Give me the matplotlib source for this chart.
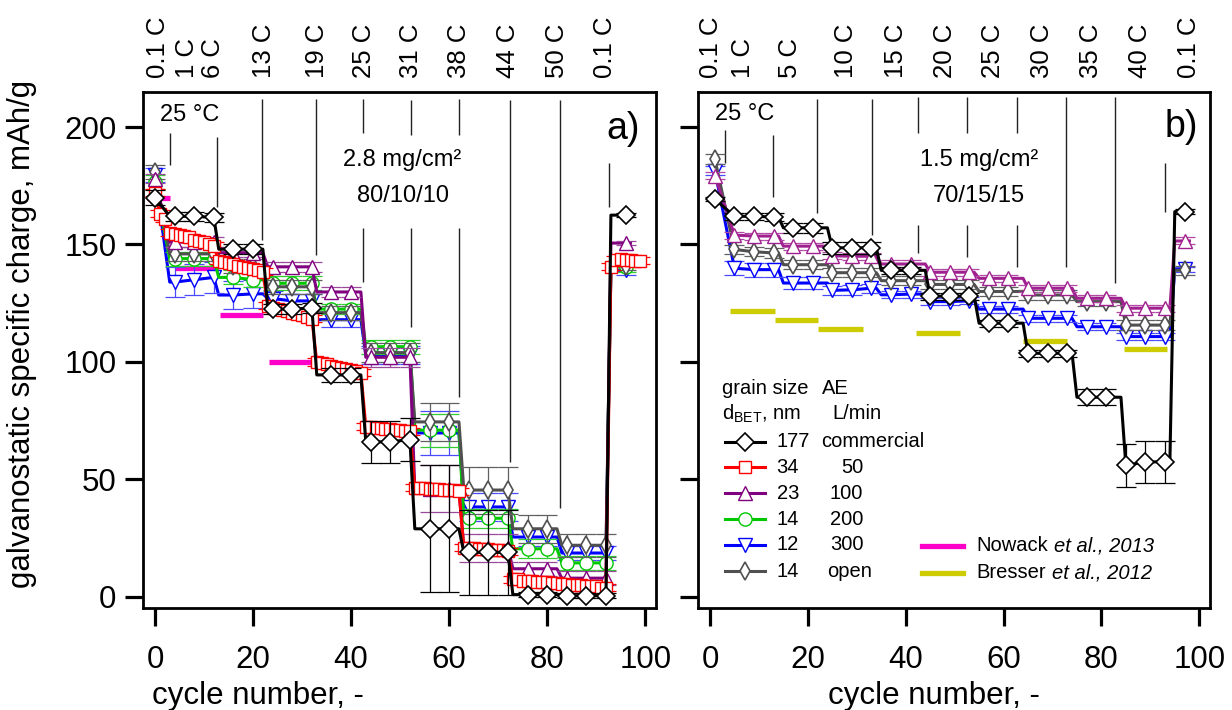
import numpy as np
import matplotlib.pyplot as plt
from matplotlib import transforms

plt.rcParams['font.family'] = ['Liberation Sans', 'DejaVu Sans']
plt.rcParams['mathtext.fontset'] = 'custom'
plt.rcParams['mathtext.rm'] = 'Liberation Sans'
plt.rcParams['mathtext.it'] = 'Liberation Sans:italic'

# ---------------- panel a) 2.8 mg/cm2, 80/10/10 ----------------
a_first = [0, 3, 13, 23, 33, 43, 53, 63, 73, 83, 93]   # first cycle of each C-rate step
a_last = [2, 12, 22, 32, 42, 52, 62, 72, 82, 92, 97]
a_rates = ['0.1 C', '1 C', '6 C', '13 C', '19 C', '25 C', '31 C', '38 C', '44 C', '50 C', '0.1 C']
a_rate_pos = [0.6, 6.5, 11.8, 22.3, 33.0, 42.7, 52.3, 62.1, 72.1, 82.1, 91.8]
a_cyc = [0, 4, 8, 12, 16, 20, 24, 28, 32, 36, 40, 44, 48, 52, 56, 60, 64, 68, 72, 76, 80, 84, 88, 92, 96]

a_177 = [170, 162, 162, 161.5, 148, 148, 122.5, 122.5, 123, 94.5, 94.5, 66, 66, 67,
         29, 29, 19, 19, 19, 1, 1, 0.5, 0.5, 0.5, 162.5]
a_177_err = [3, 2, 2, 2, 2, 2, 2, 2, 2, 3, 3, 9, 9, 9, 27, 27, 18, 18, 18, 1, 1, 1, 1, 1, 1]
a_23 = [178, 151, 151, 151, 146.5, 146.5, 140.5, 140.5, 140.5, 129.8, 129.8, 102, 102, 102,
        46, 46, 21, 21, 21, 12, 12, 8, 8, 8, 150.6]
a_23_err = [2, 2, 2, 2, 2, 2, 2, 2, 2, 2, 2, 4, 4, 4, 10, 10, 6, 6, 6, 3, 3, 3, 3, 3, 1]
a_14 = [176.5, 144, 144, 144, 136, 135, 133.5, 133.5, 133.5, 122.5, 122.5, 106.5, 106.5, 106.5,
        71, 71, 33.5, 33.5, 33.5, 20.5, 20.5, 14.5, 14.5, 14.5, 140.5]
a_14_err = [3, 3, 3, 3, 3, 3, 3, 3, 3, 2, 2, 3, 3, 3, 7, 7, 4, 4, 4, 4, 4, 3, 3, 3, 2]
a_12 = [179.5, 134, 135, 136, 128.5, 129, 127, 126, 126, 118, 118, 103, 103, 103,
        69.8, 69.8, 38.3, 38.3, 38.3, 25.5, 25.5, 18.7, 18.7, 18.7, 139]
a_12_err = [3, 6.5, 6.5, 6.5, 6, 6, 3, 3, 3, 3, 3, 4, 4, 4, 9.5, 9.5, 6, 6, 6, 4, 4, 3, 3, 3, 2]
a_open = [181, 146, 146, 146, 141, 141, 132, 132, 132, 121, 121, 104, 104, 104,
          74.5, 74.5, 45.5, 45.5, 45.5, 29, 29, 22, 22, 22, 141]
a_open_err = [3, 3, 3, 3, 3, 3, 3, 3, 3, 3, 3, 4, 4, 4, 8, 8, 10, 10, 10, 6, 6, 5, 5, 5, 2]

# 34 nm / 50 L/min sample, measured every cycle
a_34_cyc = list(range(100))
a_34 = [172, 163, 161,
        155, 154.5, 154, 153.5, 153, 152, 151.5, 151, 150, 149.5,
        143, 142.5, 142, 141.5, 141, 140.5, 140, 139.5, 139, 138.5,
        124, 123, 122.5, 122, 121.5, 121, 120.5, 120, 119, 118.5,
        100, 99.5, 99, 98.5, 98, 97.5, 97, 96.5, 96, 95.5,
        72.5, 72.5, 72, 72, 71.5, 71.5, 71, 71, 70.5, 70.5,
        46.5, 46.5, 46.5, 46, 46, 46, 45.5, 45.5, 45.5, 45,
        21, 21, 21, 20.5, 20.5, 20.5, 20, 20, 20, 19.5,
        7.5, 7.5, 7, 7, 7, 6.5, 6.5, 6.5, 6, 6,
        5.5, 5.5, 5, 5, 5, 4.5, 4.5, 4.5, 4, 4,
        140.5, 143.5, 144, 143.5, 143.5, 143, 143]
a_34_err = [1.5] * len(a_34)

# Nowack et al., 2013
now_start = [-1.6, 4.0, 13.2, 23.3]
now_end = [3.0, 12.8, 22.0, 32.0]
now_val = [170, 140, 120, 100]

# guide lines at the rate changes: (cycle, [(ymin, ymax), ...])
a_guides = [(3.0, [(183.8, 197.4)]), (12.6, [(166, 195.7)]), (21.9, [(151.9, 211.9)]),
            (32.9, [(145.5, 211.9)]), (42.4, [(197.4, 211.9), (134, 157)]),
            (52.3, [(196.6, 211.5), (114.9, 157)]), (62.1, [(196.6, 211.9), (85.1, 157)]),
            (72.4, [(57.4, 211.5)]), (82.6, [(37.9, 211.5)]), (92.7, [(166, 184.7)])]

# ---------------- panel b) 1.5 mg/cm2, 70/15/15 ----------------
b_first = [1, 5, 15, 25, 35, 45, 55, 65, 75, 85, 95]
b_last = [4, 14, 24, 34, 44, 54, 64, 74, 84, 94, 98]
b_rates = ['0.1 C', '1 C', '5 C', '10 C', '15 C', '20 C', '25 C', '30 C', '35 C', '40 C', '0.1 C']
b_rate_pos = [0.2, 6.7, 16.3, 27.7, 38.0, 48.0, 57.8, 67.8, 77.8, 87.9, 98.0]
b_cyc = [1, 5, 9, 13, 17, 21, 25, 29, 33, 37, 41, 45, 49, 53, 57, 61, 65, 69, 73, 77, 81, 85, 89, 93, 97]

b_177 = [169.3, 162, 162, 161.7, 157.1, 157.1, 148.6, 148.6, 148.6, 139, 139, 128, 128, 128,
         116.5, 116.5, 103.7, 103.7, 103.7, 85, 85, 56, 57.5, 57.5, 164]
b_177_err = [1, 1.5, 1.5, 1.5, 2, 2, 2.5, 2.5, 2.5, 1.5, 1.5, 1.5, 1.5, 1.5,
             1.5, 1.5, 1.5, 1.5, 1.5, 3.5, 3.5, 9, 9, 9, 1]
b_23 = [179.3, 154, 153.6, 153.6, 149.3, 149.3, 145.2, 145, 145, 141.7, 141.7, 138.2, 138.2, 138.2,
        135.6, 135.6, 131.4, 131.4, 131.4, 127.1, 127.1, 122.9, 122.9, 122.9, 151.5]
b_23_err = [1.5] * 25
b_open = [186.4, 147.9, 146.9, 146.4, 141.4, 141.4, 138, 138, 138, 134.6, 134.6, 133, 133, 133,
          130, 130, 128.5, 128.5, 128.5, 125.7, 125.7, 115.7, 115.7, 115.7, 139]
b_open_err = [2] * 25
b_12 = [181.4, 139.9, 139.3, 139.3, 133.6, 133.6, 130.5, 130.7, 131.4, 128.6, 128.9, 125.7, 125.7, 126,
        122.5, 122.5, 118.6, 118.6, 118.6, 115, 115, 110.8, 110.8, 110.8, 139.5]
b_12_err = [2, 3, 3, 3, 2.5, 2.5, 2, 2, 2, 1.5, 1.5, 1.5, 1.5, 1.5, 1.5, 1.5, 1.5, 1.5, 1.5,
            1.5, 1.5, 1.5, 1.5, 1.5, 1]

# Bresser et al., 2012
bre_start = [4.1, 13.3, 22.0, 42.2, 63.9, 84.7]
bre_end = [13.3, 22.0, 31.2, 51.0, 72.9, 93.5]
bre_val = [121.5, 118, 114, 112.2, 108.9, 105.4]

b_guides = [(3.0, [(184.7, 198.7)]), (12.8, [(170.2, 196.6)]), (21.9, [(163.4, 212)]),
            (33.1, [(154, 212)]), (42.6, [(197.4, 212.8), (146.4, 158.3)]),
            (52.5, [(197.4, 212.8), (144.7, 158.3)]), (62.7, [(197.4, 212.8), (140.4, 158.3)]),
            (72.8, [(140.4, 212.8)]), (82.8, [(133.6, 212.8)]), (93.1, [(163.8, 184.7)])]

# ---------------- styles ----------------
st_177 = dict(color='black', ecolor='black', marker='D', ms=9.2, mew=1.2, z=4.0)
st_34 = dict(color='#ff0000', ecolor='#ff0000', marker='s', ms=8.8, mew=1.0, z=3.8)
st_23a = dict(color='#800080', ecolor='#9a4a9a', marker='^', ms=10.5, mew=1.0, z=3.6)
st_23b = dict(color='#a0208f', ecolor='#b04aa4', marker='^', ms=10.5, mew=1.0, z=3.6)
st_14 = dict(color='#00c800', ecolor='#33cc33', marker='o', ms=9.5, mew=1.0, z=3.2)
st_12 = dict(color='#0000ff', ecolor='#4a4aff', marker='v', ms=10.5, mew=1.0, z=3.0)
st_open = dict(color='#505050', ecolor='#606060', marker='d', ms=8.7, mew=1.2, z=3.4)
REF_NOW = '#ff00c8'
REF_BRE = '#cccc00'
FS_TICK = 22.5
FS_NOTE = 17


def build_path(cyc, val, first, last):
    xs, ys = [], []
    for k, (f, l) in enumerate(zip(first, last)):
        pts = [(c, v) for c, v in zip(cyc, val) if f <= c <= l]
        if not pts:
            continue
        if k > 0 and pts[0][0] > f:
            xs.append(f); ys.append(pts[0][1])
        for c, v in pts:
            xs.append(c); ys.append(v)
        if k > 0 and pts[-1][0] < l:
            xs.append(l); ys.append(pts[-1][1])
    return xs, ys


def draw_series(ax, cyc, val, err, first, last, st):
    xs, ys = build_path(cyc, val, first, last)
    ax.plot(xs, ys, color=st['color'], lw=2.2, zorder=st['z'])
    ax.errorbar(cyc, val, yerr=err, fmt='none', ecolor=st['ecolor'], elinewidth=0.9,
                capsize=7, capthick=0.9, zorder=st['z'])
    ax.plot(cyc, val, ls='none', marker=st['marker'], ms=st['ms'], mfc='white',
            mec=st['color'], mew=st['mew'], zorder=st['z'] + 0.05)


def style_axes(ax, rates, rate_pos, guides, show_ylabels):
    ax.set_xlim(-2.45, 102.2)
    ax.set_ylim(-4.7, 214.9)
    ax.set_xticks([0, 20, 40, 60, 80, 100])
    ax.set_yticks([0, 50, 100, 150, 200])
    ax.tick_params(axis='both', direction='out', length=13, width=2.3, labelsize=FS_TICK)
    ax.tick_params(axis='x', pad=14)
    ax.tick_params(axis='y', pad=6, labelleft=show_ylabels)
    for sp in ax.spines.values():
        sp.set_linewidth(2.0)
    trans = transforms.blended_transform_factory(ax.transData, ax.transAxes)
    for lab, x in zip(rates, rate_pos):
        ax.text(x, 1.028, lab, transform=trans, rotation=90, ha='center', va='bottom', fontsize=18.5)
    for x, spans in guides:
        for y0, y1 in spans:
            ax.vlines(x, y0, y1, color='#222222', lw=1.0, zorder=1)


fig = plt.figure(figsize=(12.32, 7.10), dpi=100)
axa = fig.add_axes([143 / 1232, 102 / 710, 513 / 1232, 516 / 710])
axb = fig.add_axes([698 / 1232, 102 / 710, 512 / 1232, 516 / 710])

# panel a
style_axes(axa, a_rates, a_rate_pos, a_guides, True)
axa.hlines(now_val, now_start, now_end, color=REF_NOW, lw=3.8, zorder=2)
draw_series(axa, a_cyc, a_12, a_12_err, a_first, a_last, st_12)
draw_series(axa, a_cyc, a_14, a_14_err, a_first, a_last, st_14)
draw_series(axa, a_cyc, a_open, a_open_err, a_first, a_last, st_open)
draw_series(axa, a_cyc, a_23, a_23_err, a_first, a_last, st_23a)
draw_series(axa, a_34_cyc, a_34, a_34_err, a_first, a_last[:-1] + [99], st_34)
draw_series(axa, a_cyc, a_177, a_177_err, a_first, a_last, st_177)
axa.text(7.0, 205, '25 °C', ha='center', va='center', fontsize=FS_NOTE)
axa.text(50.5, 186, '2.8 mg/cm²', ha='center', va='center', fontsize=FS_NOTE)
axa.text(50.5, 170.6, '80/10/10', ha='center', va='center', fontsize=FS_NOTE)
axa.text(95.5, 199, 'a)', ha='center', va='center', fontsize=27)

# panel b
style_axes(axb, b_rates, b_rate_pos, b_guides, False)
axb.hlines(bre_val, bre_start, bre_end, color=REF_BRE, lw=3.8, zorder=2)
draw_series(axb, b_cyc, b_12, b_12_err, b_first, b_last, st_12)
draw_series(axb, b_cyc, b_open, b_open_err, b_first, b_last, st_open)
draw_series(axb, b_cyc, b_23, b_23_err, b_first, b_last, st_23b)
draw_series(axb, b_cyc, b_177, b_177_err, b_first, b_last, st_177)
axb.text(7.0, 205.5, '25 °C', ha='center', va='center', fontsize=FS_NOTE)
axb.text(55.0, 186, '1.5 mg/cm²', ha='center', va='center', fontsize=FS_NOTE)
axb.text(55.0, 170.6, '70/15/15', ha='center', va='center', fontsize=FS_NOTE)
axb.text(96.3, 200, 'b)', ha='center', va='center', fontsize=27)

# legend (drawn in panel b, axes fraction coordinates)
leg_fs = 14.5
axb.text(0.047, 0.426, 'grain size', transform=axb.transAxes, fontsize=leg_fs, va='center')
axb.text(0.242, 0.426, 'AE', transform=axb.transAxes, fontsize=leg_fs, va='center')
axb.text(0.047, 0.376, r'd$_{\mathrm{BET}}$, nm', transform=axb.transAxes, fontsize=leg_fs, va='center')
axb.text(0.262, 0.376, 'L/min', transform=axb.transAxes, fontsize=leg_fs, va='center')
leg_rows = [(st_177, '177', 'commercial'), (st_34, '34', '50'), (st_23a, '23', '100'),
            (st_14, '14', '200'), (st_12, '12', '300'), (st_open, '14', 'open')]
leg_y = [0.3223, 0.2727, 0.2223, 0.1719, 0.1221, 0.0717]
for (st, gs, ae), y in zip(leg_rows, leg_y):
    axb.plot([0.0527, 0.1309], [y, y], color=st['color'], lw=2.2, transform=axb.transAxes)
    axb.plot([0.0918], [y], ls='none', marker=st['marker'], ms=st['ms'], mfc='white',
             mec=st['color'], mew=st['mew'], transform=axb.transAxes)
    axb.text(0.1537, y, gs, transform=axb.transAxes, fontsize=leg_fs, va='center')
    if ae in ('commercial', 'open'):
        axb.text(0.2396 if ae == 'commercial' else 0.2514, y, ae, transform=axb.transAxes,
                 fontsize=leg_fs, va='center')
    else:
        axb.text(0.3229, y, ae, transform=axb.transAxes, fontsize=leg_fs, va='center', ha='right')

fig.canvas.draw()
renderer = fig.canvas.get_renderer()
for col, name, rest, y in [(REF_NOW, 'Nowack', 'et al., 2013', 0.1202),
                           (REF_BRE, 'Bresser', 'et al., 2012', 0.0684)]:
    axb.plot([0.4369, 0.5182], [y, y], color=col, lw=3.8, transform=axb.transAxes)
    t = axb.text(0.5443, y, name, transform=axb.transAxes, fontsize=leg_fs, va='center')
    bb = t.get_window_extent(renderer)
    x2 = axb.transAxes.inverted().transform((bb.x1 + 5.5, bb.y0))[0]
    axb.text(x2, y, rest, transform=axb.transAxes, fontsize=leg_fs, va='center', fontstyle='italic')

fig.text(22 / 1232, 1 - 334 / 710, 'galvanostatic specific charge, mAh/g', rotation=90,
         ha='center', va='center', fontsize=FS_TICK)
fig.text(258 / 1232, 1 - 696 / 710, 'cycle number, -', ha='center', va='center', fontsize=FS_TICK)
fig.text(934 / 1232, 1 - 696 / 710, 'cycle number, -', ha='center', va='center', fontsize=FS_TICK)

fig.savefig('out.png', dpi=100)
